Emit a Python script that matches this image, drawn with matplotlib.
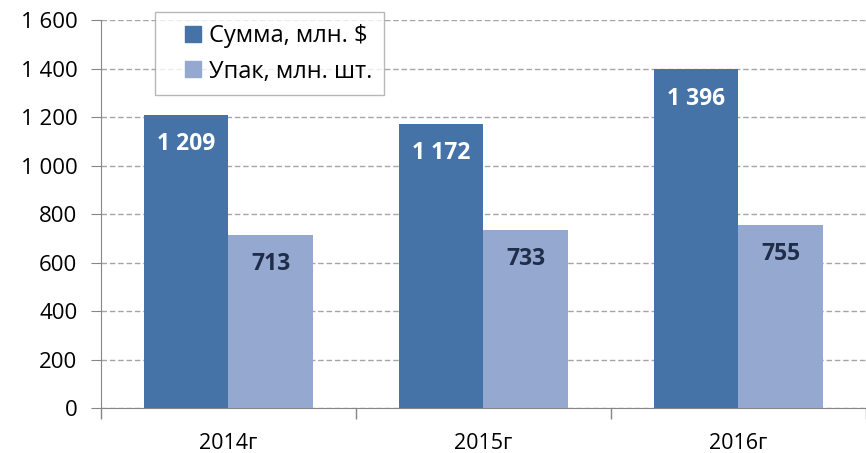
import numpy as np
import matplotlib
matplotlib.use('Agg')
import matplotlib.pyplot as plt
from matplotlib.lines import Line2D
from matplotlib.ticker import FuncFormatter

plt.rcParams['font.family'] = ['Open Sans', 'DejaVu Sans']

years = ['2014г', '2015г', '2016г']
summa = [1209, 1172, 1396]
upak = [713, 733, 755]
series_names = ['Сумма, млн. $', 'Упак, млн. шт.']

dark = '#4573A7'
light = '#95A9D0'
grid_col = '#A6A6A6'

fig = plt.figure(figsize=(8.66, 4.53), dpi=100)
ax = fig.add_axes([0.1166, 0.0993, 0.8834, 0.8565])

x = np.arange(len(years))
w = 0.333
b1 = ax.bar(x - w / 2, summa, w, color=dark, zorder=3)
b2 = ax.bar(x + w / 2, upak, w, color=light, zorder=3)


def fmt(v):
    return f'{int(v):,}'.replace(',', ' ')


for rect, v in zip(b1, summa):
    ax.annotate(fmt(v), (rect.get_x() + rect.get_width() / 2, v),
                xytext=(0, -21), textcoords='offset points',
                ha='center', va='center', fontsize=16.5, fontweight='bold',
                color='white', zorder=4)
for rect, v in zip(b2, upak):
    ax.annotate(fmt(v), (rect.get_x() + rect.get_width() / 2, v),
                xytext=(0, -21), textcoords='offset points',
                ha='center', va='center', fontsize=16.5, fontweight='bold',
                color='#1F2D4A', zorder=4)

ax.set_ylim(0, 1600)
ax.set_xlim(-0.5, 2.454)
ax.set_yticks(np.arange(0, 1601, 200))
ax.yaxis.set_major_formatter(FuncFormatter(lambda v, p: fmt(v)))
ax.set_xticks(x)
ax.set_xticklabels(years)
ax.set_xticks(np.arange(-0.5, 3, 1), minor=True)
ax.tick_params(axis='x', which='major', length=0, pad=18, labelsize=15.5)
ax.tick_params(axis='x', which='minor', length=8, color='#868686', width=1)
ax.tick_params(axis='y', length=7, color='#868686', labelsize=16, pad=10)

ax.grid(axis='y', linestyle=(0, (4, 2)), color=grid_col, linewidth=1, zorder=0)
for s in ['top', 'right']:
    ax.spines[s].set_visible(False)
ax.spines['left'].set_color('#868686')
ax.spines['bottom'].set_color('#868686')

handles = [Line2D([], [], linestyle='none', marker='s', markersize=11,
                  markerfacecolor=c, markeredgecolor=c) for c in (dark, light)]
leg = ax.legend(handles, series_names, loc='upper left',
                bbox_to_anchor=(155 / 866, 1 - 12 / 453),
                bbox_transform=fig.transFigure, fontsize=17, frameon=True,
                fancybox=False, edgecolor='#A6A6A6', handlelength=2.25,
                handletextpad=-0.45, borderpad=0.5,
                labelspacing=0.5, borderaxespad=0)
leg.get_frame().set_linewidth(1)

plt.savefig('out.png', dpi=100)
plt.close()
